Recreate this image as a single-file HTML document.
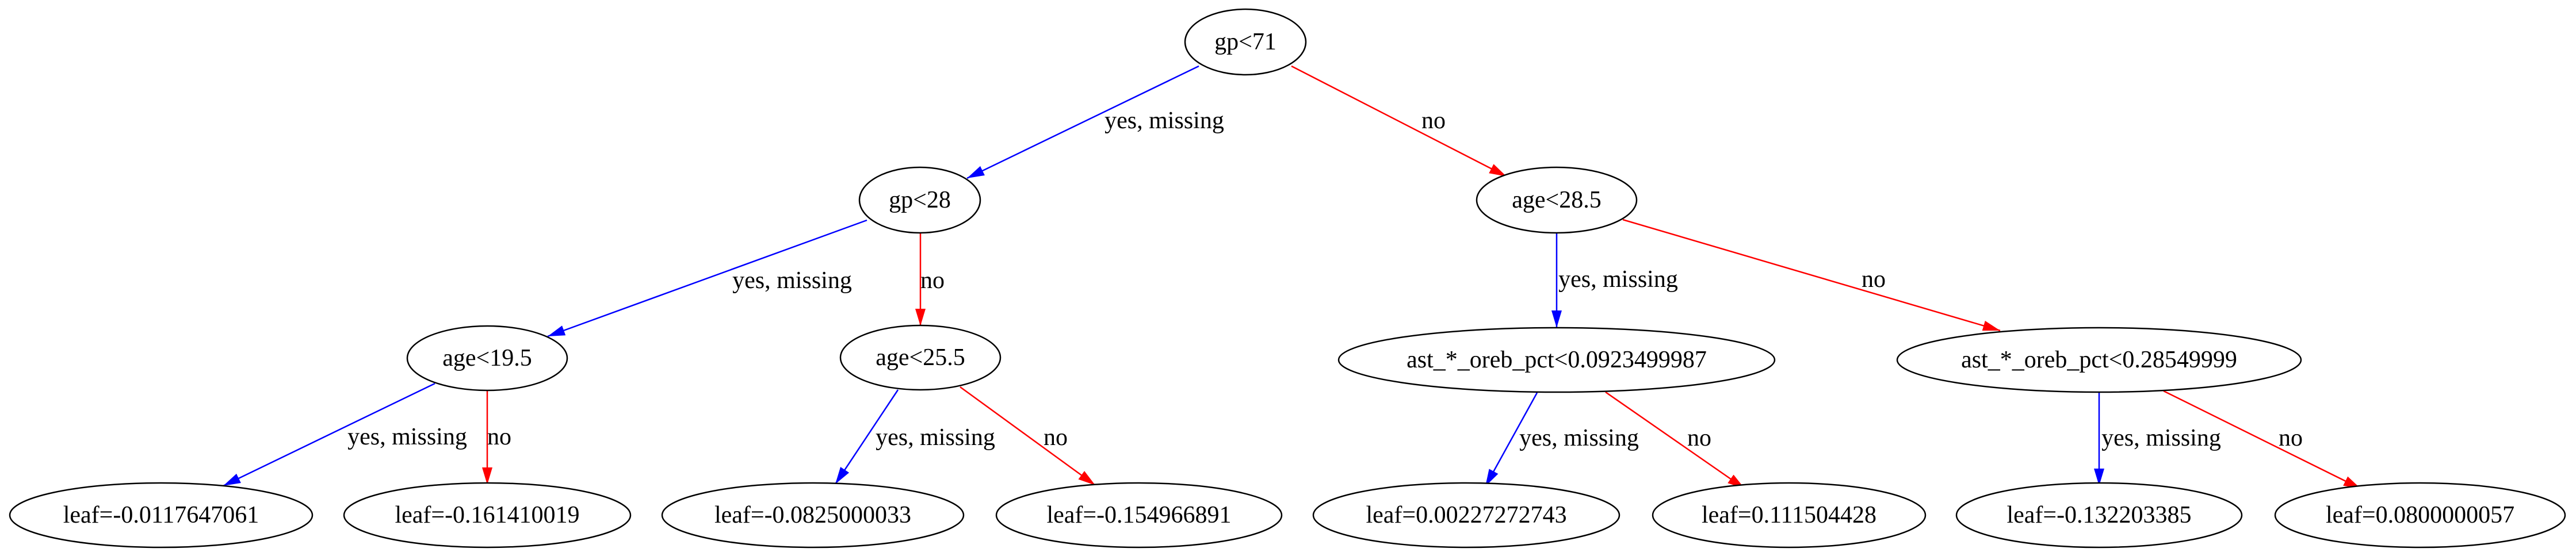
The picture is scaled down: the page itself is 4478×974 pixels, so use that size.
<!DOCTYPE html>
<html><head><meta charset="utf-8"><style>
html,body{margin:0;padding:0;background:#fff;}
svg{display:block;}
text{font-family:"Liberation Serif",serif;font-size:42px;fill:#000;}
</style></head><body>
<svg width="4478" height="974" viewBox="0 0 4478 974" xmlns="http://www.w3.org/2000/svg">
<defs>
<marker id="ab" markerUnits="userSpaceOnUse" markerWidth="32" markerHeight="20" refX="30" refY="9" orient="auto"><path d="M0,0 L30,9 L0,18 z" fill="#0000ff"/></marker>
<marker id="ar" markerUnits="userSpaceOnUse" markerWidth="32" markerHeight="20" refX="30" refY="9" orient="auto"><path d="M0,0 L30,9 L0,18 z" fill="#ff0000"/></marker>
</defs>
<g stroke-width="2.5" fill="none">
<line x1="2084" y1="115" x2="1681" y2="310" stroke="#0000ff" marker-end="url(#ab)"/>
<line x1="2245" y1="115" x2="2619" y2="307" stroke="#ff0000" marker-end="url(#ar)"/>
<line x1="1507" y1="383" x2="952" y2="585" stroke="#0000ff" marker-end="url(#ab)"/>
<line x1="1600" y1="405" x2="1600" y2="567" stroke="#ff0000" marker-end="url(#ar)"/>
<line x1="756" y1="667" x2="388" y2="845" stroke="#0000ff" marker-end="url(#ab)"/>
<line x1="847" y1="679" x2="847" y2="843" stroke="#ff0000" marker-end="url(#ar)"/>
<line x1="1561" y1="678" x2="1452" y2="842" stroke="#0000ff" marker-end="url(#ab)"/>
<line x1="1669" y1="673" x2="1904" y2="844" stroke="#ff0000" marker-end="url(#ar)"/>
<line x1="2706" y1="405" x2="2706" y2="570" stroke="#0000ff" marker-end="url(#ab)"/>
<line x1="2821" y1="382" x2="3477" y2="575" stroke="#ff0000" marker-end="url(#ar)"/>
<line x1="2672" y1="683" x2="2582" y2="846" stroke="#0000ff" marker-end="url(#ab)"/>
<line x1="2791" y1="682" x2="3033" y2="850" stroke="#ff0000" marker-end="url(#ar)"/>
<line x1="3649" y1="682" x2="3649" y2="845" stroke="#0000ff" marker-end="url(#ab)"/>
<line x1="3761" y1="680" x2="4104" y2="850" stroke="#ff0000" marker-end="url(#ar)"/>
</g>
<g stroke="#000" stroke-width="2.5" fill="#fff">
<ellipse cx="2165" cy="73" rx="105" ry="57"/>
<ellipse cx="1599" cy="348" rx="105" ry="57"/>
<ellipse cx="2706" cy="348" rx="139" ry="57"/>
<ellipse cx="847" cy="623" rx="139" ry="56"/>
<ellipse cx="1600" cy="622" rx="139" ry="56"/>
<ellipse cx="2706" cy="626" rx="379" ry="56"/>
<ellipse cx="3649" cy="626" rx="351" ry="56"/>
<ellipse cx="280" cy="896" rx="263" ry="56"/>
<ellipse cx="847" cy="896" rx="249" ry="56"/>
<ellipse cx="1413" cy="896" rx="262" ry="56"/>
<ellipse cx="1980" cy="896" rx="248" ry="56"/>
<ellipse cx="2549" cy="896" rx="266" ry="56"/>
<ellipse cx="3110" cy="896" rx="237" ry="56"/>
<ellipse cx="3649" cy="896" rx="248" ry="56"/>
<ellipse cx="4207" cy="896" rx="252" ry="56"/>
</g>
<g text-anchor="middle" dominant-baseline="central">
<text x="2165" y="73">gp&lt;71</text>
<text x="1599" y="348">gp&lt;28</text>
<text x="2706" y="348">age&lt;28.5</text>
<text x="847" y="623">age&lt;19.5</text>
<text x="1600" y="622">age&lt;25.5</text>
<text x="2706" y="626">ast_*_oreb_pct&lt;0.0923499987</text>
<text x="3649" y="626">ast_*_oreb_pct&lt;0.28549999</text>
<text x="280" y="896">leaf=-0.0117647061</text>
<text x="847" y="896">leaf=-0.161410019</text>
<text x="1413" y="896">leaf=-0.0825000033</text>
<text x="1980" y="896">leaf=-0.154966891</text>
<text x="2549" y="896">leaf=0.00227272743</text>
<text x="3110" y="896">leaf=0.111504428</text>
<text x="3649" y="896">leaf=-0.132203385</text>
<text x="4207" y="896">leaf=0.0800000057</text>
<text x="2024" y="210">yes, missing</text>
<text x="2492" y="210">no</text>
<text x="1377" y="488">yes, missing</text>
<text x="1621" y="488">no</text>
<text x="2813" y="486">yes, missing</text>
<text x="3257" y="486">no</text>
<text x="708" y="760">yes, missing</text>
<text x="868" y="760">no</text>
<text x="1626" y="761">yes, missing</text>
<text x="1835" y="761">no</text>
<text x="2745" y="762">yes, missing</text>
<text x="2954" y="762">no</text>
<text x="3757" y="762">yes, missing</text>
<text x="3982" y="762">no</text>
</g>
</svg>
</body></html>
